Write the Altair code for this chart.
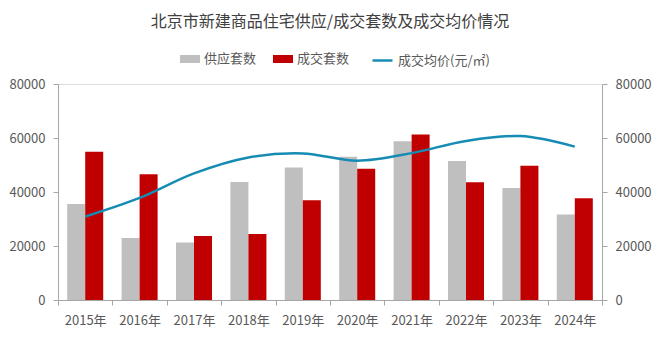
import altair as alt
import pandas as pd

years = ['2015年', '2016年', '2017年', '2018年', '2019年', '2020年', '2021年', '2022年', '2023年', '2024年']
supply = [35600, 23000, 21300, 43700, 49100, 53100, 58800, 51500, 41500, 31700]
deals = [54900, 46600, 23700, 24400, 36900, 48600, 61300, 43600, 49700, 37700]
price = [30900, 37800, 46900, 52800, 54300, 51600, 54400, 58900, 60700, 56800]

series_names = ['供应套数', '成交套数']
line_name = '成交均价(元/㎡)'
bar_colors = ['#BFBFBF', '#C00000']
line_color = '#168CB4'
FONT = 'Noto Sans CJK SC'
LABEL = '#595959'
AXIS = '#A6A6A6'

bars_df = pd.DataFrame(
    [{'year': y, 'series': series_names[0], 'value': v} for y, v in zip(years, supply)]
    + [{'year': y, 'series': series_names[1], 'value': v} for y, v in zip(years, deals)]
)
line_df = pd.DataFrame({'year': years, 'price': price, 'name': [line_name] * len(years)})

x_enc = alt.X('year:N', sort=years, title=None,
              scale=alt.Scale(paddingInner=0, paddingOuter=0),
              axis=alt.Axis(labelAngle=0, tickBand='extent', tickSize=5, labelPadding=9,
                            domainColor=AXIS, tickColor=AXIS, labelColor=LABEL,
                            labelFontSize=13, labelFont=FONT))

yscale = alt.Scale(domain=[0, 80000], nice=False)

bars = alt.Chart(bars_df).mark_bar().encode(
    x=x_enc,
    xOffset=alt.XOffset('series:N', sort=series_names,
                        scale=alt.Scale(domain=series_names, paddingInner=0, paddingOuter=0.51)),
    y=alt.Y('value:Q', scale=yscale, title=None,
            axis=alt.Axis(orient='left', values=[0, 20000, 40000, 60000, 80000], grid=False,
                          tickSize=5, labelPadding=8, domainColor=AXIS, tickColor=AXIS,
                          labelColor=LABEL, labelFontSize=13, labelFont=FONT, format='d')),
    color=alt.Color('series:N', sort=series_names,
                    scale=alt.Scale(domain=series_names, range=bar_colors),
                    legend=alt.Legend(orient='none', legendX=122, legendY=-35, direction='horizontal',
                                      title=None, symbolType='M-1,-0.4H1V0.4H-1Z', symbolSize=400,
                                      symbolStrokeWidth=0, labelFont=FONT, labelFontSize=13,
                                      labelColor=LABEL, labelOffset=4, columnPadding=16)),
)

line = alt.Chart(line_df).mark_line(interpolate='catmull-rom', strokeWidth=2.5).encode(
    x=alt.X('year:N', sort=years),
    y=alt.Y('price:Q', scale=yscale, title=None,
            axis=alt.Axis(orient='right', values=[0, 20000, 40000, 60000, 80000], grid=False,
                          tickSize=5, labelPadding=8, domainColor=AXIS, tickColor=AXIS,
                          labelColor=LABEL, labelFontSize=13, labelFont=FONT, format='d')),
    stroke=alt.Stroke('name:N', scale=alt.Scale(domain=[line_name], range=[line_color]),
                      legend=alt.Legend(orient='none', legendX=313, legendY=-35, title=None,
                                        symbolType='stroke', symbolSize=400, symbolStrokeWidth=2.5,
                                        labelFont=FONT, labelFontSize=13, labelColor=LABEL,
                                        labelOffset=4)),
)

chart = alt.layer(bars, line).resolve_scale(y='independent', color='independent').properties(
    width=544, height=216,
    autosize=alt.AutoSizeParams(type='none'),
    padding={'left': 58, 'top': 84, 'right': 58, 'bottom': 40},
    title=alt.TitleParams('北京市新建商品住宅供应/成交套数及成交均价情况', font=FONT, fontSize=16,
                          fontWeight='normal', color='#404040', anchor='middle', offset=19),
).configure_view(stroke=None).configure(background='white')

chart.save('out.html', embed_options={'renderer': 'svg', 'actions': False})
